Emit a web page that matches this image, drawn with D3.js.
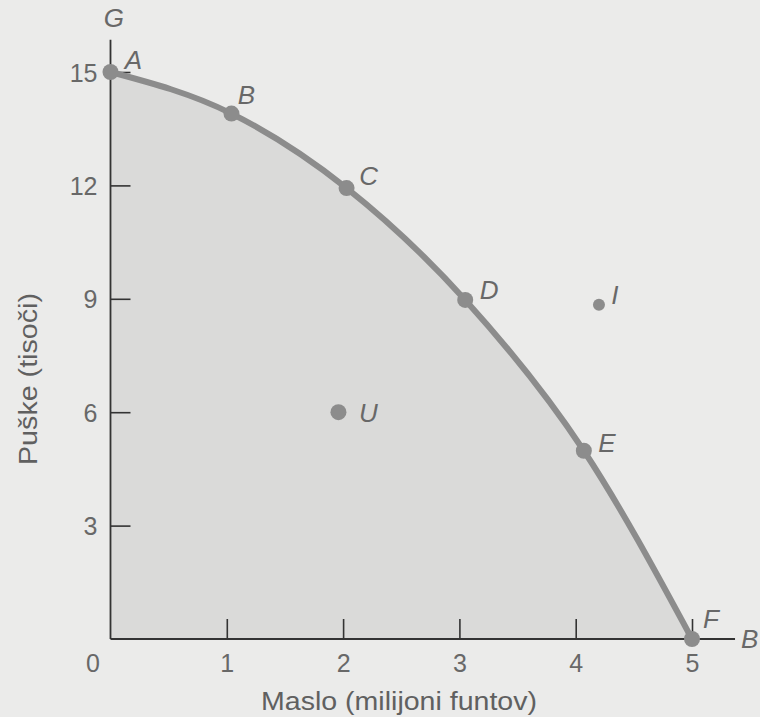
<!DOCTYPE html>
<html>
<head>
    <meta charset="utf-8">
    <title>Meja proizvodnih možnosti</title>
    <script src="https://cdn.jsdelivr.net/npm/d3@7"></script>
    <style>
        html, body {
            margin: 0;
            padding: 0;
            background: #ebebea;
        }
        svg {
            display: block;
            font-family: 'Liberation Sans', Arial, sans-serif;
        }
        .axis path { display: none; }
        .axis line { stroke: #333; stroke-width: 1.6px; }
        .axis text { fill: #686868; font-size: 25px; }
        .pt-label { fill: #686868; font-size: 26px; font-style: italic; }
        .title { fill: #606060; font-size: 26px; }
    </style>
</head>
<body>
<svg id="chart" width="760" height="717"></svg>
<script>
    // data (butter in millions of pounds, guns in thousands)
    var names  = ["A", "B", "C", "D", "E", "F"];
    var butter = [0, 1.04, 2.03, 3.05, 4.07, 5];
    var guns   = [15, 13.9, 11.93, 8.97, 4.98, 0];

    // points off the frontier
    var extraNames  = ["U", "I"];
    var extraButter = [1.96, 4.2];
    var extraGuns   = [6, 8.84];

    var xTicks = [1, 2, 3, 4, 5];
    var yTicks = [3, 6, 9, 12, 15];

    var svg = d3.select("#chart");

    var x = d3.scaleLinear().domain([0, 5]).range([110.5, 692]),
        y = d3.scaleLinear().domain([0, 15]).range([639, 72]);

    var frontier = names.map(function(n, i) { return {name: n, x: butter[i], y: guns[i]}; });
    var extras = extraNames.map(function(n, i) { return {name: n, x: extraButter[i], y: extraGuns[i]}; });

    // shaded region of attainable combinations
    svg.append("path")
        .datum(frontier)
        .attr("fill", "#dadad9")
        .attr("d", d3.area()
            .x(function(d) { return x(d.x); })
            .y0(y(0))
            .y1(function(d) { return y(d.y); })
            .curve(d3.curveMonotoneX));

    // axes: ticks point inward, lines run a bit past the data range
    svg.append("g")
        .attr("class", "axis")
        .attr("transform", "translate(0," + y(0) + ")")
        .call(d3.axisBottom(x).tickValues(xTicks).tickFormat(d3.format("d"))
            .tickSizeInner(-20).tickSizeOuter(0).tickPadding(15));

    svg.append("g")
        .attr("class", "axis")
        .attr("transform", "translate(" + x(0) + ",0)")
        .call(d3.axisLeft(y).tickValues(yTicks).tickFormat(d3.format("d"))
            .tickSizeInner(-20).tickSizeOuter(0).tickPadding(13))
        .selectAll("text").attr("dy", "0.36em");

    svg.append("line")
        .attr("x1", x(0)).attr("x2", x(5.37))
        .attr("y1", y(0)).attr("y2", y(0))
        .attr("stroke", "#333").attr("stroke-width", 1.8);
    svg.append("line")
        .attr("x1", x(0)).attr("x2", x(0))
        .attr("y1", y(0)).attr("y2", y(15.85))
        .attr("stroke", "#333").attr("stroke-width", 1.8);

    svg.append("text")
        .attr("x", x(-0.15)).attr("y", y(0) + 33)
        .attr("text-anchor", "middle")
        .attr("fill", "#686868").attr("font-size", 25)
        .text("0");

    // axis end letters
    svg.append("text").attr("class", "pt-label")
        .attr("x", x(0.03)).attr("y", y(16.2))
        .attr("text-anchor", "middle").text("G");
    svg.append("text").attr("class", "pt-label")
        .attr("x", 741).attr("y", y(-0.25))
        .attr("text-anchor", "start").text("B");

    // frontier line
    svg.append("path")
        .datum(frontier)
        .attr("fill", "none")
        .attr("stroke", "#8c8c8c")
        .attr("stroke-width", 6)
        .attr("stroke-linecap", "round")
        .attr("d", d3.line()
            .x(function(d) { return x(d.x); })
            .y(function(d) { return y(d.y); })
            .curve(d3.curveMonotoneX));

    var labelOffset = {A: [23, -12], B: [15, -19], C: [22, -12], D: [24, -10],
                       E: [23, -8], F: [19, -20], U: [30, 0], I: [16, -10]};

    svg.selectAll(".dot")
        .data(frontier.concat(extras))
        .enter().append("circle")
        .attr("class", "dot")
        .attr("cx", function(d) { return x(d.x); })
        .attr("cy", function(d) { return y(d.y); })
        .attr("r", function(d) { return d.name === "I" ? 6 : 8; })
        .attr("fill", "#8c8c8c");

    svg.selectAll(".pt-name")
        .data(frontier.concat(extras))
        .enter().append("text")
        .attr("class", "pt-label pt-name")
        .attr("x", function(d) { return x(d.x) + labelOffset[d.name][0]; })
        .attr("y", function(d) { return y(d.y) + labelOffset[d.name][1]; })
        .attr("dy", "0.36em")
        .attr("text-anchor", "middle")
        .text(function(d) { return d.name; });

    // axis titles
    svg.append("text")
        .attr("class", "title")
        .attr("x", 399).attr("y", 710)
        .attr("text-anchor", "middle")
        .attr("textLength", 276)
        .attr("lengthAdjust", "spacingAndGlyphs")
        .text("Maslo (milijoni funtov)");

    svg.append("text")
        .attr("class", "title")
        .attr("transform", "translate(37,379) rotate(-90)")
        .attr("text-anchor", "middle")
        .attr("textLength", 172)
        .attr("lengthAdjust", "spacingAndGlyphs")
        .text("Puške (tisoči)");
</script>
</body>
</html>
